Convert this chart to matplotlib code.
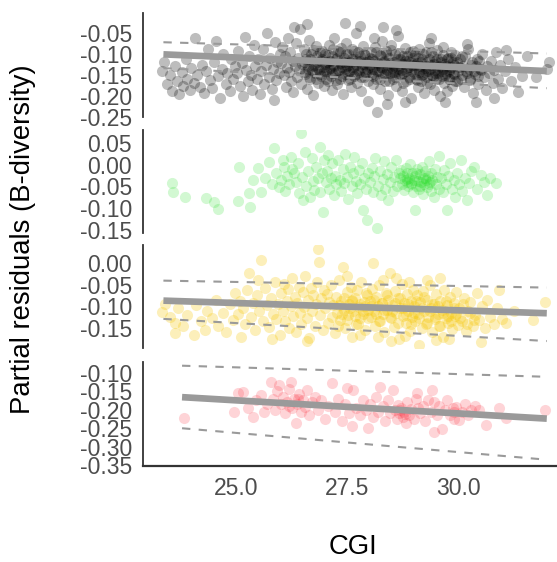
import matplotlib
matplotlib.use("Agg")
import matplotlib.pyplot as plt

# ---------------- data ----------------
black_pts = [
 (23.32,-0.140),(23.38,-0.118),(23.45,-0.172),(23.50,-0.150),(23.56,-0.188),(23.61,-0.128),(23.66,-0.163),
 (23.72,-0.196),(23.77,-0.142),(23.81,-0.175),(23.86,-0.110),(23.90,-0.158),(23.95,-0.185),(23.98,-0.133),
 (24.04,-0.168),(24.08,-0.060),(24.12,-0.150),(24.18,-0.178),(24.22,-0.125),(24.27,-0.192),(24.31,-0.140),
 (24.36,-0.088),(24.40,-0.162),(24.45,-0.180),(24.49,-0.118),(24.54,-0.068),(24.58,-0.152),(24.63,-0.205),
 (24.67,-0.135),(24.71,-0.098),(24.76,-0.170),(24.80,-0.145),(24.85,-0.188),(24.89,-0.112),(24.93,-0.160),
 (24.97,-0.128),
 (25.02,-0.145),(25.05,-0.092),(25.09,-0.175),(25.12,-0.120),(25.16,-0.200),(25.19,-0.058),(25.22,-0.138),
 (25.26,-0.165),(25.29,-0.105),(25.33,-0.150),(25.36,-0.185),(25.40,-0.078),(25.43,-0.128),(25.47,-0.160),
 (25.50,-0.112),(25.53,-0.195),(25.57,-0.140),(25.60,-0.088),(25.63,-0.170),(25.67,-0.125),(25.70,-0.048),
 (25.73,-0.155),(25.77,-0.108),(25.80,-0.182),(25.83,-0.135),(25.87,-0.070),(25.90,-0.162),(25.93,-0.118),
 (25.96,-0.145),(25.98,-0.098),(25.85,-0.210),
 (26.02,-0.120),(26.04,-0.082),(26.07,-0.150),(26.09,-0.105),(26.12,-0.178),(26.14,-0.132),(26.17,-0.060),
 (26.19,-0.142),(26.22,-0.095),(26.24,-0.165),(26.27,-0.115),(26.29,-0.190),(26.32,-0.128),(26.34,-0.072),
 (26.37,-0.155),(26.39,-0.108),(26.42,-0.138),(26.44,-0.040),(26.47,-0.170),(26.49,-0.122),(26.52,-0.088),
 (26.54,-0.148),(26.57,-0.112),(26.59,-0.182),(26.62,-0.135),(26.64,-0.065),(26.67,-0.158),(26.69,-0.100),
 (26.72,-0.128),(26.74,-0.198),(26.77,-0.145),(26.79,-0.080),(26.82,-0.118),(26.84,-0.168),(26.87,-0.138),
 (26.89,-0.095),(26.92,-0.152),(26.94,-0.110),(26.97,-0.175),(26.99,-0.130),(26.30,-0.035),(26.60,-0.028),
 (27.01,-0.098),(27.03,-0.140),(27.05,-0.118),(27.07,-0.165),(27.09,-0.078),(27.11,-0.132),(27.13,-0.152),
 (27.15,-0.105),(27.17,-0.185),(27.19,-0.125),(27.21,-0.062),(27.23,-0.145),(27.25,-0.112),(27.27,-0.170),
 (27.29,-0.092),(27.31,-0.138),(27.33,-0.120),(27.35,-0.158),(27.37,-0.085),(27.39,-0.130),(27.41,-0.195),
 (27.43,-0.108),(27.45,-0.148),(27.47,-0.072),(27.49,-0.128),(27.51,-0.162),(27.53,-0.100),(27.55,-0.140),
 (27.57,-0.118),(27.59,-0.178),(27.61,-0.088),(27.63,-0.135),(27.65,-0.152),(27.67,-0.110),(27.69,-0.048),
 (27.71,-0.125),(27.73,-0.168),(27.75,-0.095),(27.77,-0.142),(27.79,-0.115),(27.81,-0.188),(27.83,-0.130),
 (27.85,-0.080),(27.87,-0.155),(27.89,-0.122),(27.91,-0.102),(27.93,-0.145),(27.95,-0.135),(27.97,-0.212),
 (27.99,-0.115),(27.45,-0.025),(27.80,-0.032),
 (28.01,-0.125),(28.03,-0.095),(28.05,-0.148),(28.07,-0.112),(28.09,-0.172),(28.11,-0.135),(28.13,-0.082),
 (28.15,-0.158),(28.17,-0.238),(28.19,-0.120),(28.21,-0.140),(28.23,-0.102),(28.25,-0.182),(28.27,-0.130),
 (28.29,-0.068),(28.31,-0.150),(28.33,-0.115),(28.35,-0.165),(28.37,-0.092),(28.39,-0.138),(28.41,-0.125),
 (28.43,-0.198),(28.45,-0.108),(28.47,-0.145),(28.49,-0.078),(28.51,-0.132),(28.53,-0.160),(28.55,-0.118),
 (28.57,-0.142),(28.59,-0.098),(28.61,-0.175),(28.63,-0.128),(28.65,-0.055),(28.67,-0.150),(28.69,-0.112),
 (28.71,-0.138),(28.73,-0.188),(28.75,-0.105),(28.77,-0.145),(28.79,-0.122),(28.81,-0.085),(28.83,-0.165),
 (28.85,-0.132),(28.87,-0.115),(28.89,-0.155),(28.91,-0.095),(28.93,-0.140),(28.95,-0.205),(28.97,-0.125),
 (28.99,-0.108),(28.30,-0.035),(28.60,-0.042),(28.40,-0.220),(28.80,-0.215),(28.10,-0.060),
 (29.01,-0.135),(29.03,-0.100),(29.05,-0.158),(29.07,-0.120),(29.09,-0.178),(29.11,-0.142),(29.13,-0.088),
 (29.15,-0.128),(29.17,-0.165),(29.19,-0.110),(29.21,-0.148),(29.23,-0.192),(29.25,-0.132),(29.27,-0.095),
 (29.29,-0.155),(29.31,-0.118),(29.33,-0.140),(29.35,-0.072),(29.37,-0.170),(29.39,-0.125),(29.41,-0.150),
 (29.43,-0.105),(29.45,-0.185),(29.47,-0.138),(29.49,-0.115),(29.51,-0.160),(29.53,-0.090),(29.55,-0.145),
 (29.57,-0.128),(29.59,-0.200),(29.61,-0.112),(29.63,-0.152),(29.65,-0.135),(29.67,-0.082),(29.69,-0.168),
 (29.71,-0.122),(29.73,-0.145),(29.75,-0.188),(29.77,-0.108),(29.79,-0.140),(29.81,-0.160),(29.83,-0.095),
 (29.85,-0.130),(29.87,-0.175),(29.89,-0.118),(29.91,-0.148),(29.94,-0.102),(29.97,-0.165),(29.40,-0.060),
 (29.70,-0.215),
 (30.02,-0.130),(30.06,-0.158),(30.10,-0.105),(30.14,-0.178),(30.18,-0.140),(30.22,-0.088),(30.26,-0.162),
 (30.30,-0.125),(30.34,-0.192),(30.38,-0.148),(30.42,-0.112),(30.46,-0.170),(30.50,-0.135),(30.54,-0.098),
 (30.58,-0.155),(30.62,-0.185),(30.66,-0.128),(30.70,-0.145),(30.74,-0.115),(30.78,-0.168),(30.82,-0.138),
 (30.86,-0.095),(30.90,-0.158),(30.94,-0.125),(30.98,-0.180),(30.40,-0.215),(30.20,-0.075),(30.80,-0.205),
 (31.05,-0.140),(31.12,-0.112),(31.20,-0.165),(31.28,-0.130),(31.36,-0.190),(31.45,-0.152),(31.55,-0.105),
 (31.07,-0.090),(31.75,-0.155),(32.05,-0.118),(32.00,-0.135),
]

black_core_pts = [
 (26.52,-0.118),(26.55,-0.142),(26.58,-0.098),(26.61,-0.128),(26.64,-0.155),(26.67,-0.112),(26.70,-0.138),
 (26.73,-0.090),(26.76,-0.125),(26.79,-0.160),(26.82,-0.105),(26.85,-0.132),(26.88,-0.148),(26.91,-0.115),
 (26.94,-0.092),(26.97,-0.140),(27.00,-0.122),(27.03,-0.158),(27.06,-0.102),(27.09,-0.135),(27.12,-0.115),
 (27.15,-0.145),(27.18,-0.088),(27.21,-0.128),(27.24,-0.162),(27.27,-0.108),(27.30,-0.138),(27.33,-0.095),
 (27.36,-0.122),(27.39,-0.152),(27.42,-0.118),(27.45,-0.135),(27.48,-0.100),(27.51,-0.145),(27.54,-0.125),
 (27.57,-0.160),(27.60,-0.110),(27.63,-0.130),(27.66,-0.092),(27.69,-0.148),(27.72,-0.115),(27.75,-0.138),
 (27.78,-0.105),(27.81,-0.155),(27.84,-0.122),(27.87,-0.098),(27.90,-0.142),(27.93,-0.118),(27.96,-0.165),
 (27.99,-0.130),(28.02,-0.108),(28.05,-0.135),(28.08,-0.152),(28.11,-0.115),(28.14,-0.095),(28.17,-0.140),
 (28.20,-0.125),(28.23,-0.160),(28.26,-0.105),(28.29,-0.132),(28.32,-0.118),(28.35,-0.148),(28.38,-0.100),
 (28.41,-0.138),(28.44,-0.165),(28.47,-0.120),(28.50,-0.090),(28.53,-0.142),(28.56,-0.128),(28.59,-0.155),
 (28.62,-0.110),(28.65,-0.135),(28.68,-0.098),(28.71,-0.150),(28.74,-0.122),(28.77,-0.168),(28.80,-0.115),
 (28.83,-0.140),(28.86,-0.105),(28.89,-0.130),(28.92,-0.158),(28.95,-0.118),(28.98,-0.092),(29.01,-0.145),
 (29.04,-0.125),(29.07,-0.162),(29.10,-0.108),(29.13,-0.138),(29.16,-0.118),(29.19,-0.150),(29.22,-0.100),
 (29.25,-0.142),(29.28,-0.128),(29.31,-0.168),(29.34,-0.112),(29.37,-0.135),(29.40,-0.095),(29.43,-0.155),
 (29.46,-0.122),(29.49,-0.145),(29.52,-0.110),(29.55,-0.132),(29.58,-0.160),(29.61,-0.118),(29.64,-0.140),
 (29.67,-0.102),(29.70,-0.150),(29.73,-0.128),(29.76,-0.112),(29.79,-0.158),(29.82,-0.135),(29.85,-0.108),
 (29.88,-0.145),(29.91,-0.125),(29.94,-0.165),(29.97,-0.118),(30.00,-0.140),(30.04,-0.112),(30.08,-0.150),
 (30.12,-0.128),(30.16,-0.105),(30.20,-0.145),(30.24,-0.135),(30.28,-0.160),(30.32,-0.118),(30.36,-0.140),
 (30.40,-0.128),(30.44,-0.152),(30.48,-0.115),(30.52,-0.138),
]

green_pts = [
 (23.55,-0.041),(23.58,-0.062),(23.84,-0.074),(24.33,-0.076),(24.49,-0.085),(24.60,-0.101),(25.04,-0.083),
 (25.07,-0.005),(25.31,-0.097),(25.29,-0.064),(25.38,-0.034),(25.50,-0.007),(25.56,-0.062),(25.74,0.007),
 (25.85,0.039),(25.96,-0.051),(26.07,-0.005),(26.23,0.018),(26.30,-0.018),(26.45,0.074),(26.50,-0.080),
 (25.65,-0.030),(25.80,-0.045),(25.90,-0.020),(26.00,-0.035),(26.05,0.010),(26.10,-0.060),(26.15,-0.025),
 (26.20,-0.045),(26.25,-0.010),(26.35,-0.040),(26.40,0.005),(26.42,-0.065),(26.48,-0.028),(26.55,0.030),
 (26.58,-0.050),(26.62,-0.015),(26.66,-0.075),(26.70,0.015),(26.72,-0.038),(26.76,-0.058),(26.80,-0.005),
 (26.84,-0.030),(26.88,0.040),(26.90,-0.062),(26.93,-0.020),(26.96,-0.108),(26.98,0.010),
 (27.02,-0.040),(27.05,-0.015),(27.08,0.022),(27.10,-0.055),(27.13,-0.030),(27.16,0.005),(27.20,-0.070),
 (27.23,-0.025),(27.26,-0.045),(27.30,0.012),(27.33,-0.035),(27.36,-0.060),(27.40,-0.010),(27.43,-0.042),
 (27.46,0.025),(27.50,-0.028),(27.53,-0.078),(27.56,-0.005),(27.60,-0.050),(27.63,-0.020),(27.66,0.018),
 (27.70,-0.038),(27.73,-0.065),(27.76,-0.012),(27.80,-0.045),(27.83,0.005),(27.86,-0.103),(27.88,-0.030),
 (27.92,-0.055),(27.95,-0.126),(27.97,-0.018),
 (28.02,-0.040),(28.05,-0.008),(28.08,-0.062),(28.10,-0.025),(28.13,0.015),(28.17,-0.145),(28.20,-0.048),
 (28.23,-0.015),(28.26,-0.070),(28.30,-0.032),(28.33,0.008),(28.36,-0.055),(28.40,-0.022),(28.43,-0.082),
 (28.46,-0.040),(28.50,-0.005),(28.53,-0.060),(28.56,-0.028),(28.60,0.012),(28.63,-0.048),(28.66,-0.018),
 (28.70,-0.030),(28.72,-0.012),(28.74,-0.045),(28.76,-0.025),(28.78,-0.058),(28.80,-0.035),(28.82,-0.008),
 (28.84,-0.040),(28.86,-0.020),(28.88,-0.050),(28.90,-0.030),(28.92,0.002),(28.94,-0.042),(28.96,-0.018),
 (28.98,-0.062),(29.00,-0.035),(29.02,-0.103),(29.04,-0.025),(29.06,-0.048),(29.08,-0.010),(29.10,-0.038),
 (29.12,-0.055),(29.14,-0.022),(29.16,-0.040),(29.18,-0.005),(29.20,-0.030),(29.22,-0.068),(29.24,-0.045),
 (29.26,-0.015),(29.28,-0.035),(29.30,-0.052),(29.32,-0.025),(29.34,0.008),(29.36,-0.040),(29.38,-0.060),
 (29.40,-0.020),(29.42,-0.035),(29.45,-0.075),(29.48,-0.010),(29.50,-0.045),(29.53,-0.028),(29.56,0.020),
 (29.58,-0.055),(28.85,-0.032),(28.95,-0.045),(29.05,-0.020),(29.15,-0.050),(29.25,-0.030),(29.35,-0.045),
 (29.62,-0.030),(29.65,-0.062),(29.68,-0.012),(29.72,-0.045),(29.75,-0.103),(29.78,-0.025),(29.82,0.005),
 (29.86,-0.055),(29.90,-0.035),(29.94,-0.075),(29.98,-0.018),(30.02,-0.045),(30.06,0.012),(30.10,-0.060),
 (30.15,-0.030),(30.20,-0.080),(30.25,-0.042),(30.30,-0.015),(30.36,-0.005),(30.42,-0.055),(30.51,-0.023),
 (30.58,-0.040),(30.65,-0.069),(30.72,-0.030),(30.85,-0.041),
]

yellow_pts = [
 (23.33,-0.113),(23.40,-0.095),(23.50,-0.125),(23.62,-0.138),(23.62,-0.161),(23.70,-0.105),(23.80,-0.145),
 (23.90,-0.120),(24.04,-0.166),(24.10,-0.098),(24.20,-0.135),(24.29,-0.154),(24.35,-0.110),(24.45,-0.128),
 (24.55,-0.085),(24.60,-0.145),(24.70,-0.115),(24.78,-0.160),(24.85,-0.095),(24.92,-0.132),(24.98,-0.070),
 (25.03,-0.118),(25.08,-0.088),(25.11,-0.170),(25.15,-0.105),(25.20,-0.140),(25.25,-0.062),(25.29,-0.023),
 (25.33,-0.125),(25.38,-0.092),(25.42,-0.155),(25.47,-0.075),(25.52,-0.112),(25.56,0.007),(25.60,-0.135),
 (25.65,-0.058),(25.70,-0.098),(25.74,-0.148),(25.78,-0.080),(25.83,-0.118),(25.87,-0.045),(25.90,-0.130),
 (25.94,-0.095),(25.98,-0.165),(25.50,-0.040),(25.80,-0.175),
 (26.02,-0.070),(26.05,-0.110),(26.08,-0.048),(26.11,-0.135),(26.14,-0.088),(26.17,-0.060),(26.20,-0.150),
 (26.23,-0.100),(26.26,-0.035),(26.29,-0.122),(26.32,-0.078),(26.35,-0.160),(26.38,-0.092),(26.41,-0.055),
 (26.44,-0.115),(26.47,-0.140),(26.50,-0.068),(26.53,-0.102),(26.56,-0.030),(26.59,-0.128),(26.62,-0.085),
 (26.65,-0.172),(26.68,-0.058),(26.71,-0.112),(26.74,-0.075),(26.77,-0.145),(26.80,-0.095),(26.83,-0.045),
 (26.85,0.032),(26.86,0.002),(26.89,-0.120),(26.92,-0.082),(26.95,-0.155),(26.98,-0.062),(26.60,-0.180),
 (27.01,-0.105),(27.04,-0.072),(27.07,-0.138),(27.10,-0.090),(27.13,-0.050),(27.16,-0.125),(27.19,-0.098),
 (27.22,-0.162),(27.25,-0.078),(27.28,-0.115),(27.31,-0.040),(27.34,-0.132),(27.37,-0.088),(27.41,-0.009),
 (27.43,-0.108),(27.46,-0.150),(27.49,-0.068),(27.52,-0.120),(27.55,-0.095),(27.58,-0.055),(27.61,-0.170),
 (27.64,-0.110),(27.67,-0.082),(27.70,-0.140),(27.73,-0.062),(27.76,-0.102),(27.79,-0.128),(27.82,-0.045),
 (27.85,-0.118),(27.88,-0.090),(27.91,-0.155),(27.94,-0.075),(27.97,-0.108),(27.50,-0.030),(27.80,-0.165),
 (27.30,-0.145),(27.60,-0.085),(27.90,-0.100),
 (28.01,-0.088),(28.03,-0.125),(28.05,-0.060),(28.08,0.000),(28.10,-0.112),(28.13,-0.145),(28.16,-0.078),
 (28.19,-0.100),(28.22,-0.052),(28.25,-0.135),(28.28,-0.092),(28.31,-0.118),(28.34,-0.160),(28.37,-0.070),
 (28.40,-0.108),(28.43,-0.085),(28.46,-0.023),(28.49,-0.128),(28.52,-0.098),(28.55,-0.148),(28.58,-0.065),
 (28.61,-0.115),(28.64,-0.082),(28.67,-0.175),(28.70,-0.105),(28.73,-0.048),(28.76,-0.122),(28.79,-0.092),
 (28.82,-0.138),(28.85,-0.072),(28.88,-0.110),(28.91,-0.158),(28.94,-0.088),(28.97,-0.125),(28.99,-0.062),
 (28.30,-0.040),(28.60,-0.035),(28.90,-0.045),(28.20,-0.170),(28.50,-0.180),(28.80,-0.168),
 (29.01,-0.100),(29.04,-0.135),(29.07,-0.075),(29.10,-0.118),(29.13,-0.189),(29.15,-0.090),(29.18,-0.150),
 (29.21,-0.065),(29.24,-0.112),(29.27,-0.140),(29.30,-0.085),(29.33,-0.125),(29.36,-0.050),(29.39,-0.105),
 (29.42,-0.160),(29.45,-0.095),(29.48,-0.130),(29.51,-0.072),(29.54,-0.118),(29.57,-0.145),(29.60,-0.088),
 (29.63,-0.108),(29.66,-0.170),(29.69,-0.062),(29.72,-0.128),(29.75,-0.098),(29.78,-0.138),(29.81,-0.078),
 (29.84,-0.115),(29.87,-0.152),(29.90,-0.092),(29.93,-0.122),(29.96,-0.068),(29.99,-0.142),(29.30,-0.040),
 (29.60,-0.035),(29.50,-0.178),(29.80,-0.175),
 (30.03,-0.105),(30.08,-0.135),(30.13,-0.080),(30.18,-0.158),(30.23,-0.112),(30.28,-0.090),(30.33,-0.145),
 (30.38,-0.120),(30.43,-0.070),(30.48,-0.132),(30.51,-0.182),(30.55,-0.100),(30.60,-0.150),(30.66,-0.085),
 (30.72,-0.125),(30.80,-0.140),(30.88,-0.105),(30.92,-0.062),(31.00,-0.130),(31.09,-0.138),(31.25,-0.110),
 (31.70,-0.131),(31.96,-0.090),
]

yellow_core_pts = [
 (27.32,-0.098),(27.38,-0.118),(27.44,-0.080),(27.50,-0.132),(27.56,-0.105),(27.62,-0.088),(27.68,-0.122),
 (27.74,-0.140),(27.80,-0.095),(27.86,-0.112),(27.92,-0.070),(27.98,-0.128),(28.04,-0.100),(28.10,-0.085),
 (28.16,-0.118),(28.22,-0.135),(28.28,-0.092),(28.34,-0.108),(28.40,-0.075),(28.46,-0.125),(28.52,-0.110),
 (28.58,-0.092),(28.64,-0.138),(28.70,-0.082),(28.76,-0.105),(28.82,-0.120),(28.88,-0.095),(28.94,-0.140),
 (29.00,-0.115),(29.06,-0.088),(29.12,-0.128),(29.18,-0.105),(29.24,-0.078),(29.30,-0.138),(29.36,-0.112),
 (29.42,-0.095),(29.48,-0.125),(29.54,-0.100),(29.60,-0.145),(29.66,-0.115),(29.72,-0.088),(29.78,-0.122),
 (29.84,-0.135),(29.90,-0.105),(29.96,-0.118),(30.04,-0.128),(30.12,-0.095),(30.20,-0.140),(30.28,-0.115),
 (30.36,-0.132),
]

red_pts = [
 (23.82,-0.221),(24.96,-0.205),(25.04,-0.155),(25.16,-0.152),(25.27,-0.195),(25.38,-0.219),(25.45,-0.175),
 (25.56,-0.160),(25.62,-0.205),(25.70,-0.185),(25.78,-0.126),(25.82,-0.170),(25.88,-0.200),(25.93,-0.150),
 (25.96,-0.133),(26.00,-0.185),(26.05,-0.165),(26.10,-0.210),(26.14,-0.178),(26.18,-0.145),(26.23,-0.126),
 (26.26,-0.195),(26.30,-0.170),(26.34,-0.235),(26.38,-0.185),(26.42,-0.158),(26.46,-0.205),(26.50,-0.175),
 (26.55,-0.192),(26.60,-0.148),(26.65,-0.215),(26.70,-0.180),(26.78,-0.165),(26.85,-0.200),(26.92,-0.175),
 (27.00,-0.225),(27.08,-0.190),(27.17,-0.128),(27.22,-0.205),(27.30,-0.170),(27.38,-0.230),(27.45,-0.185),
 (27.50,-0.141),(27.55,-0.210),(27.61,-0.245),(27.63,-0.147),(27.70,-0.195),(27.78,-0.215),(27.85,-0.175),
 (27.92,-0.200),(27.97,-0.248),(28.02,-0.185),(28.08,-0.220),(28.14,-0.165),(28.20,-0.205),(28.24,-0.139),
 (28.30,-0.190),(28.36,-0.230),(28.42,-0.175),(28.47,-0.210),(28.53,-0.147),(28.58,-0.200),(28.62,-0.225),
 (28.64,-0.187),(28.68,-0.210),(28.72,-0.195),(28.75,-0.219),(28.78,-0.205),(28.82,-0.235),(28.86,-0.180),
 (28.90,-0.215),(28.95,-0.198),(29.00,-0.225),(29.05,-0.170),(29.08,-0.155),(29.14,-0.210),(29.20,-0.190),
 (29.26,-0.230),(29.32,-0.175),(29.38,-0.205),(29.42,-0.147),(29.46,-0.179),(29.46,-0.259),(29.52,-0.215),
 (29.58,-0.190),(29.64,-0.253),(29.70,-0.200),(29.76,-0.175),(29.82,-0.215),(29.88,-0.195),(29.92,-0.225),
 (29.96,-0.192),(30.02,-0.227),(30.08,-0.205),(30.15,-0.185),(30.22,-0.215),(30.30,-0.200),(30.38,-0.190),
 (30.47,-0.200),(30.63,-0.240),(30.92,-0.195),(31.09,-0.221),(31.96,-0.200),
 (26.20,-0.190),(26.40,-0.172),(28.70,-0.200),(28.80,-0.212),(29.10,-0.195),(29.90,-0.205),
]

black_x, black_y = map(list, zip(*(black_pts + black_core_pts)))
green_x, green_y = map(list, zip(*green_pts))
yellow_x, yellow_y = map(list, zip(*(yellow_pts + yellow_core_pts)))
red_x, red_y = map(list, zip(*red_pts))

# fitted lines (start, end) and interval bounds
fit1_x = [23.36, 32.0]; fit1_y = [-0.100, -0.140]; up1_y = [-0.071, -0.098]; lo1_y = [-0.133, -0.181]
fit3_x = [23.36, 32.0]; fit3_y = [-0.087, -0.116]; up3_y = [-0.041, -0.057]; lo3_y = [-0.129, -0.180]
fit4_x = [23.78, 32.0]; fit4_y = [-0.166, -0.224]; up4_y = [-0.081, -0.111]; lo4_y = [-0.250, -0.335]

yticks1 = [-0.05, -0.10, -0.15, -0.20, -0.25]
yticks2 = [0.05, 0.00, -0.05, -0.10, -0.15]
yticks3 = [0.00, -0.05, -0.10, -0.15]
yticks4 = [-0.10, -0.15, -0.20, -0.25, -0.30, -0.35]
xticks = [25.0, 27.5, 30.0]

# ---------------- figure ----------------
W, H = 557, 562
fig = plt.figure(figsize=(W / 100, H / 100), dpi=100)
plt.rcParams['font.family'] = ['Liberation Sans', 'DejaVu Sans']

XL = (22.9, 32.23)
left_px, right_px = 143, 557

def add_axes(top_px, bot_px):
    return fig.add_axes([left_px / W, 1 - bot_px / H, (right_px - left_px) / W, (bot_px - top_px) / H])

panels = [
    (13, 117, (-0.25, -0.001), yticks1, black_x, black_y, '#000000', 0.26),
    (130, 233, (-0.157, 0.080), yticks2, green_x, green_y, '#1fdc1f', 0.2),
    (245, 348, (-0.196, 0.041), yticks3, yellow_x, yellow_y, '#f6c500', 0.27),
    (362, 466, (-0.352, -0.071), yticks4, red_x, red_y, '#fa2a3a', 0.2),
]
fits = {0: (fit1_x, fit1_y, up1_y, lo1_y), 2: (fit3_x, fit3_y, up3_y, lo3_y), 3: (fit4_x, fit4_y, up4_y, lo4_y)}

for i, (t, b, yl, yt, px, py, col, al) in enumerate(panels):
    ax = add_axes(t, b)
    ax.scatter(px, py, s=64, color=col, alpha=al, linewidths=0, zorder=2)
    if i in fits:
        fx, fy, uy, ly = fits[i]
        ax.plot(fx, uy, color='#9a9a9a', lw=1.5, dashes=(4, 4), zorder=3)
        ax.plot(fx, ly, color='#9a9a9a', lw=1.5, dashes=(4, 4), zorder=3)
        ax.plot(fx, fy, color='#9a9a9a', lw=4.8, solid_capstyle='butt', zorder=4)
    ax.set_xlim(*XL)
    ax.set_ylim(*yl)
    ax.set_yticks(yt)
    ax.set_yticklabels([f"{v:.2f}" for v in yt])
    for s in ['top', 'right']:
        ax.spines[s].set_visible(False)
    ax.spines['left'].set_color('#333333')
    ax.spines['left'].set_linewidth(1.3)
    ax.tick_params(axis='y', length=0, pad=8, labelsize=16.5, labelcolor='#4d4d4d')
    ax.patch.set_alpha(0)
    if i < 3:
        ax.spines['bottom'].set_visible(False)
        ax.set_xticks([])
    else:
        ax.spines['bottom'].set_color('#333333')
        ax.spines['bottom'].set_linewidth(1.6)
        ax.set_xticks(xticks)
        ax.set_xticklabels([f"{v:.1f}" for v in xticks])
        ax.tick_params(axis='x', length=0, pad=8, labelsize=16.5, labelcolor='#4d4d4d')

fig.text(23 / W, 1 - 239 / H, 'Partial residuals (B-diversity)', rotation=90,
         ha='center', va='center', fontsize=19.8, color='black')
fig.text(353 / W, 1 - 547 / H, 'CGI', ha='center', va='center', fontsize=19.8, color='black')

fig.savefig('out.png', dpi=100)
